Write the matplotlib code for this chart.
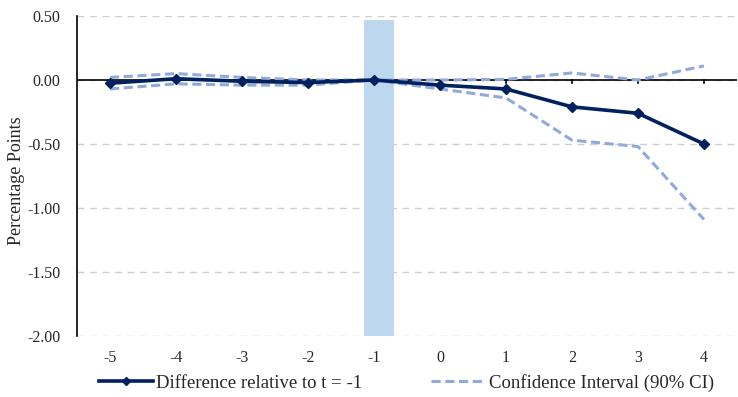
import numpy as np
import matplotlib.pyplot as plt
from matplotlib.lines import Line2D

plt.rcParams["font.family"] = "serif"
plt.rcParams["font.serif"] = ["Liberation Serif", "DejaVu Serif"]

periods = ["-5", "-4", "-3", "-2", "-1", "0", "1", "2", "3", "4"]
diff = [-0.025, 0.01, -0.01, -0.02, 0.0, -0.04, -0.07, -0.21, -0.26, -0.50]
ci_upper = [0.02, 0.05, 0.02, 0.0, 0.0, 0.0, 0.005, 0.055, 0.0, 0.11]
ci_lower = [-0.07, -0.03, -0.04, -0.04, 0.0, -0.07, -0.14, -0.47, -0.52, -1.09]
ref_period = "-1"
ref_bar_top = 0.47

navy = "#002060"
ci_color = "#8faadc"
bar_color = "#bdd7ee"
text_color = "#262626"
dash = (0, (3, 1.5))

x = np.arange(len(periods))

fig = plt.figure(figsize=(7.38, 3.97), dpi=100)
ax = fig.add_axes([0.1043, 0.1537, 0.8943, 0.806])

ymin, ymax = -2.0, 0.5
yticks = np.arange(ymin, ymax + 0.01, 0.5)
for y in yticks:
    ax.axhline(y, color="#d0d0d0", lw=1, ls=(0, (5, 4)), zorder=0)

# shaded reference period
i_ref = periods.index(ref_period)
ax.bar(x[i_ref] + 0.08, ref_bar_top - ymin, bottom=ymin, width=0.45,
       color=bar_color, zorder=1)

ax.axhline(0, color="black", lw=1.2, zorder=2)
for xi in x:
    ax.plot([xi, xi], [0, -0.025], color="black", lw=1.2, zorder=2)

ax.plot(x, ci_upper, color=ci_color, lw=2.2, ls=dash, zorder=3)
ax.plot(x, ci_lower, color=ci_color, lw=2.2, ls=dash, zorder=3)
ax.plot(x, diff, color=navy, lw=2.6, marker="D", ms=5, zorder=4)

ax.set_xlim(-0.5, len(periods) - 0.5)
ax.set_ylim(ymin, ymax)
ax.set_yticks(yticks)
ax.set_yticklabels([f"{v:.2f}" for v in yticks], fontsize=11.5, color=text_color)
ax.set_xticks(x)
ax.set_xticklabels(periods, fontsize=11.5, color=text_color)
ax.tick_params(axis="x", length=0, pad=10)
ax.tick_params(axis="y", length=0, pad=12)

for side in ["top", "right", "bottom"]:
    ax.spines[side].set_visible(False)
ax.spines["left"].set_color("black")
ax.spines["left"].set_linewidth(1.2)

ax.set_ylabel("Percentage Points", fontsize=13, color=text_color, labelpad=3)
ax.yaxis.set_label_coords(-0.078, 0.485)

handles = [
    Line2D([], [], color=navy, lw=2.6, marker="D", ms=4),
    Line2D([], [], color=ci_color, lw=2.2, ls=dash),
]
fig.legend(handles, ["Difference relative to t = -1", "Confidence Interval (90% CI)"],
           loc="lower left", bbox_to_anchor=(0.111, -0.03), ncol=2,
           frameon=False, fontsize=13.5, handlelength=2.9, handletextpad=0.15,
           columnspacing=3.7, labelcolor=text_color)

fig.savefig("out.png", dpi=100)
